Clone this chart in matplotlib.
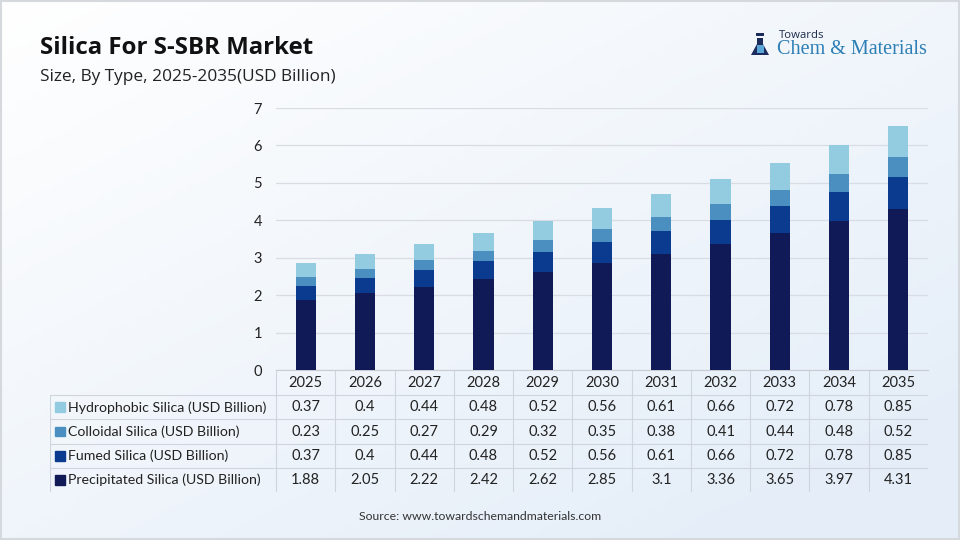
import numpy as np
import matplotlib.pyplot as plt
from matplotlib.patches import Rectangle, Polygon

years = ['2025', '2026', '2027', '2028', '2029', '2030', '2031', '2032', '2033', '2034', '2035']
precipitated = [1.88, 2.05, 2.22, 2.42, 2.62, 2.85, 3.1, 3.36, 3.65, 3.97, 4.31]
fumed = [0.37, 0.4, 0.44, 0.48, 0.52, 0.56, 0.61, 0.66, 0.72, 0.78, 0.85]
colloidal = [0.23, 0.25, 0.27, 0.29, 0.32, 0.35, 0.38, 0.41, 0.44, 0.48, 0.52]
hydrophobic = [0.37, 0.4, 0.44, 0.48, 0.52, 0.56, 0.61, 0.66, 0.72, 0.78, 0.85]

series_names = ['Precipitated Silica (USD Billion)', 'Fumed Silica (USD Billion)',
                'Colloidal Silica (USD Billion)', 'Hydrophobic Silica (USD Billion)']
series_vals = [precipitated, fumed, colloidal, hydrophobic]
colors = ['#101a56', '#0b3b8e', '#4a8fbf', '#93cbe0']

plt.rcParams['font.family'] = ['Lato', 'DejaVu Sans']
W, H = 960, 540
fig = plt.figure(figsize=(9.6, 5.4), dpi=100)

# background gradient
bg = fig.add_axes([0, 0, 1, 1], zorder=-10)
gx, gy = np.meshgrid(np.linspace(0, 1, 200), np.linspace(0, 1, 120))
t = np.clip(0.55 * gx + 0.6 * gy, 0, 1)
c0 = np.array([1.0, 1.0, 1.0])
c1 = np.array([0.90, 0.935, 0.975])
img = c0[None, None, :] * (1 - t[..., None]) + c1[None, None, :] * t[..., None]
bg.imshow(img, aspect='auto', extent=[0, 1, 0, 1], origin='upper')
bg.add_patch(Rectangle((0.001, 0.002), 0.998, 0.996, fill=False, ec='#d5d9de', lw=1.5,
                       transform=bg.transAxes))
bg.set_axis_off()

def fx(px):
    return px / W

def fy(py):
    return 1 - py / H

# bar chart
left, right = 276, 928
ax = fig.add_axes([fx(left), fy(370), fx(right - left), fy(108) - fy(370)])
ax.patch.set_alpha(0)
x = np.arange(len(years))
bottom = np.zeros(len(years))
for vals, c in zip(series_vals, colors):
    ax.bar(x, vals, width=0.34, bottom=bottom, color=c, zorder=3)
    bottom += np.array(vals)
ax.set_xlim(-0.5, len(years) - 0.5)
ax.set_ylim(0, 7)
ax.set_yticks(range(8))
ax.yaxis.grid(True, color='#d9dde3', lw=0.9)
ax.set_axisbelow(True)
for s in ['top', 'right', 'left']:
    ax.spines[s].set_visible(False)
ax.spines['bottom'].set_color('#c8ccd2')
ax.tick_params(axis='y', length=0, labelsize=10.5, labelcolor='#222222', pad=10)
ax.set_xticks([])

# data table
ncols = len(years)
colw = (right - left) / ncols
lab_left = 50
lab_w = (left - lab_left) / colw
tab = fig.add_axes([fx(lab_left), fy(492), fx(right - lab_left), fy(371) - fy(492)])
tab.patch.set_alpha(0)
tab.set_xlim(-0.5 - lab_w, ncols - 0.5)
tab.set_ylim(0, 5)
tab.set_axis_off()
lc = '#cfd5dc'
fs = 10.5
for i, yr in enumerate(years):
    tab.text(i, 4.5, yr, ha='center', va='center', fontsize=fs, color='#222222')
for i in range(ncols):
    tab.plot([i - 0.5, i - 0.5], [0, 5], color=lc, lw=0.8)
tab.plot([-0.5 - lab_w, -0.5 - lab_w], [0, 4], color=lc, lw=0.8)
for r in range(1, 5):
    tab.plot([-0.5 - lab_w, ncols - 0.5], [r, r], color=lc, lw=0.8)
rows = list(zip(series_names, series_vals, colors))[::-1]
for r, (name, vals, c) in enumerate(rows):
    yc = 3.5 - r
    tab.add_patch(Rectangle((-0.5 - lab_w + 0.08, yc - 0.2), 0.17, 0.4, color=c))
    tab.text(-0.5 - lab_w + 0.31, yc, name, ha='left', va='center', fontsize=10.2, color='#222222')
    for i, v in enumerate(vals):
        tab.text(i, yc, f'{v:g}', ha='center', va='center', fontsize=fs, color='#222222')

# titles
fig.text(fx(40), fy(48), 'Silica For S-SBR Market', fontsize=17.3, fontweight='bold',
         color='#111111', va='center', family=['Open Sans', 'DejaVu Sans'])
fig.text(fx(40), fy(77), 'Size, By Type, 2025-2035(USD Billion)', fontsize=12.4,
         color='#222222', va='center', family=['Open Sans', 'DejaVu Sans'])
fig.text(0.5, fy(516), 'Source: www.towardschemandmaterials.com', fontsize=8.8,
         color='#333333', ha='center', va='center')

# logo
fig.text(fx(779), fy(35), 'Towards', fontsize=8.2, color='#1c2a4a', va='center',
         family=['Open Sans', 'DejaVu Sans'])
fig.text(fx(927), fy(50), 'Chem & Materials', fontsize=14.5, color='#2c7fb5',
         va='center', ha='right', family=['Liberation Serif'])
navy = '#1a2b5c'
fig.patches.append(Polygon([[fx(757), fy(38)], [fx(763), fy(38)], [fx(763), fy(44)], [fx(769), fy(55)],
                            [fx(751), fy(55)], [fx(757), fy(44)]], closed=True, fc=navy,
                           transform=fig.transFigure))
fig.patches.append(Rectangle((fx(756), fy(36)), fx(8), fy(33) - fy(36), fc=navy,
                             transform=fig.transFigure))
fig.patches.append(Rectangle((fx(757), fy(53)), fx(7), fy(45) - fy(53), fc='#5aa6d6',
                             transform=fig.transFigure))

fig.savefig('out.png', dpi=100)
